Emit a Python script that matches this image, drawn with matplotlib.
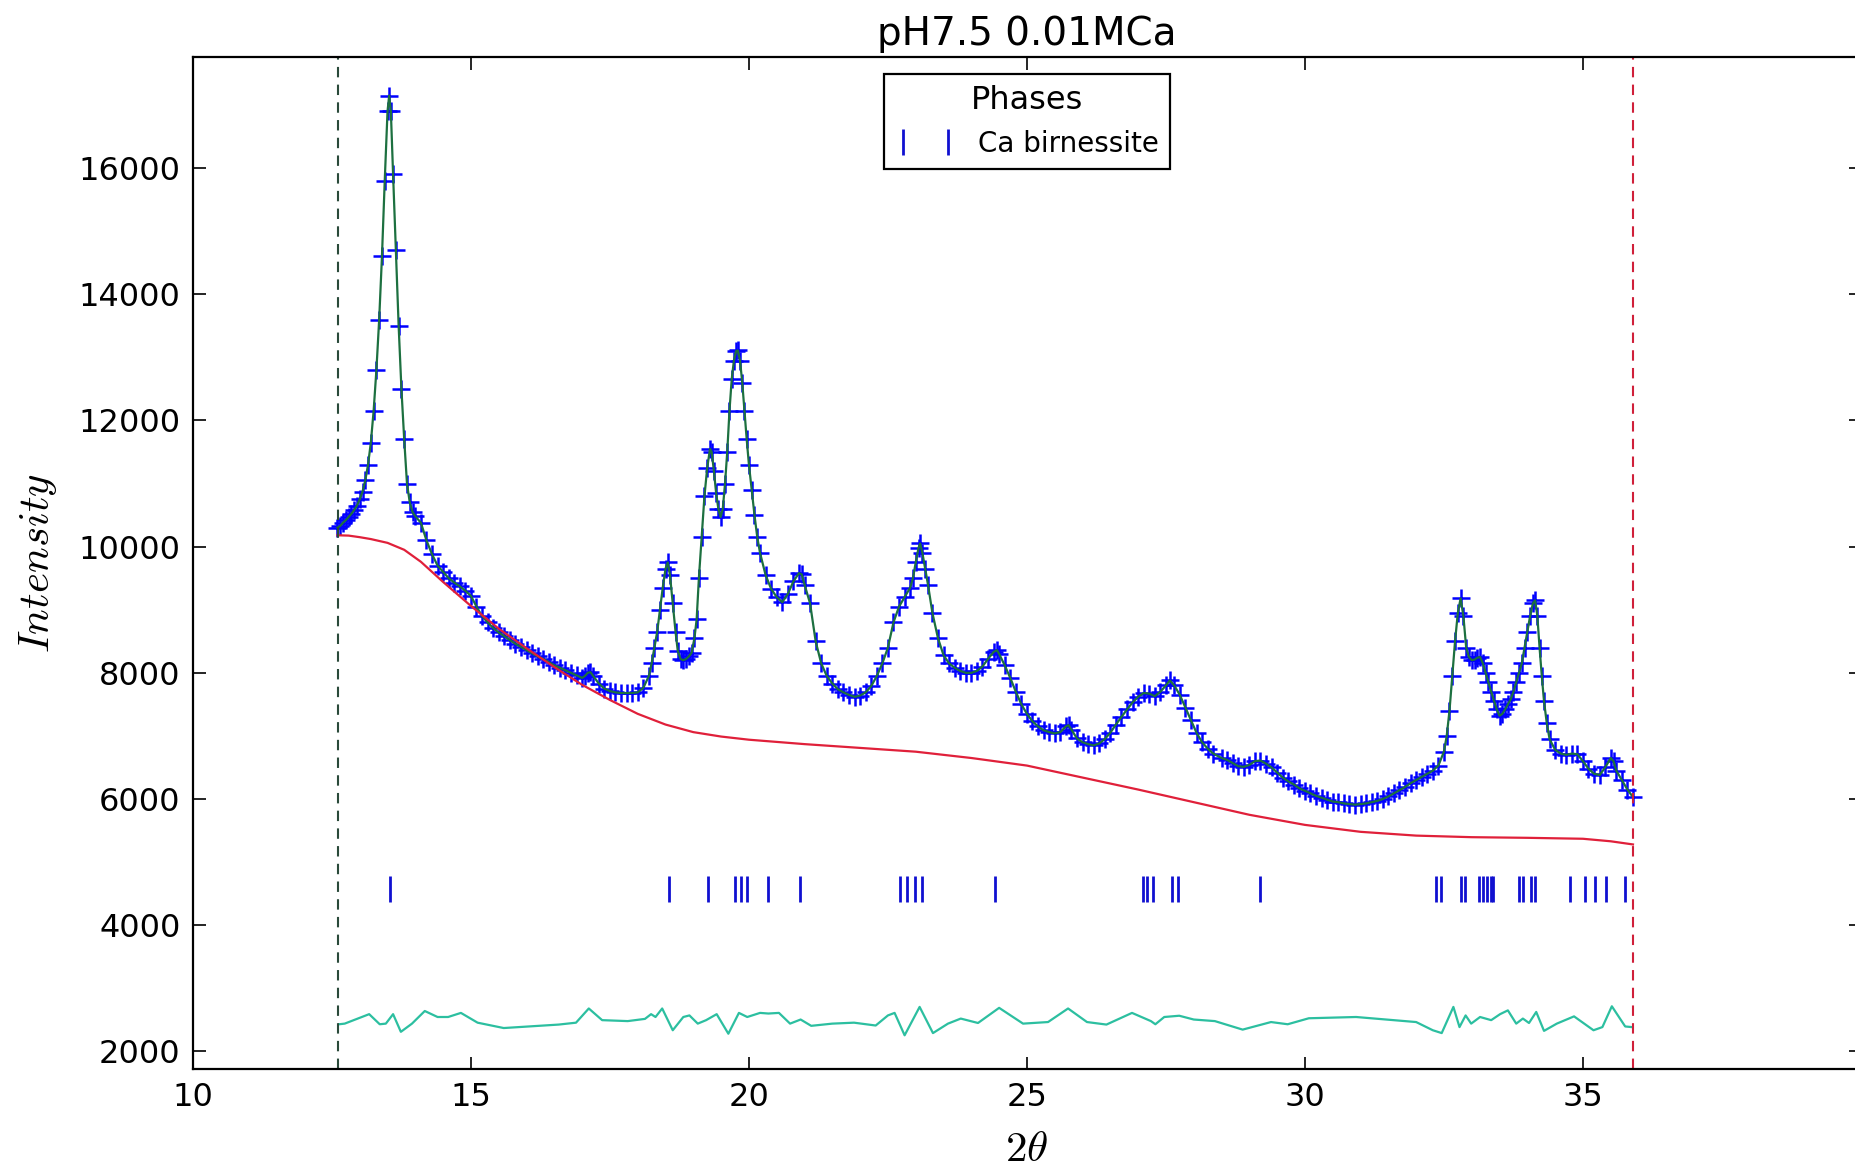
import matplotlib
matplotlib.use('Agg')
import matplotlib.pyplot as plt
from matplotlib.lines import Line2D

tth_obs = [12.60, 12.65, 12.70, 12.75, 12.80, 12.85, 12.90, 12.95, 13.00, 13.05,
           13.10, 13.15, 13.20, 13.25, 13.30, 13.35, 13.40, 13.45, 13.50, 13.53,
           13.56, 13.60, 13.65, 13.70, 13.75, 13.80, 13.85, 13.90, 13.95, 14.00,
           14.10, 14.20, 14.30, 14.40, 14.50, 14.60, 14.70, 14.80, 14.90, 15.00,
           15.10, 15.20, 15.30, 15.40, 15.50, 15.60, 15.70, 15.80, 15.90, 16.00,
           16.10, 16.20, 16.30, 16.40, 16.50, 16.60, 16.70, 16.80, 16.90, 17.00,
           17.05, 17.10, 17.15, 17.20, 17.30, 17.40, 17.50, 17.60, 17.70, 17.80,
           17.90, 18.00, 18.10, 18.20, 18.25, 18.30, 18.35, 18.40, 18.45, 18.50,
           18.54, 18.58, 18.63, 18.68, 18.72, 18.77, 18.82, 18.87, 18.92, 18.97,
           19.02, 19.06, 19.10, 19.15, 19.20, 19.25, 19.30, 19.33, 19.37, 19.41,
           19.45, 19.49, 19.53, 19.57, 19.61, 19.65, 19.69, 19.73, 19.77, 19.80,
           19.84, 19.88, 19.92, 19.96, 20.00, 20.05, 20.10, 20.15, 20.20, 20.30,
           20.40, 20.50, 20.60, 20.70, 20.80, 20.90, 20.95, 21.00, 21.10, 21.20,
           21.30, 21.40, 21.50, 21.60, 21.70, 21.80, 21.90, 22.00, 22.10, 22.20,
           22.30, 22.40, 22.50, 22.60, 22.70, 22.80, 22.90, 22.95, 23.00, 23.05,
           23.08, 23.12, 23.17, 23.22, 23.30, 23.40, 23.50, 23.60, 23.70, 23.80,
           23.90, 24.00, 24.10, 24.20, 24.30, 24.40, 24.46, 24.50, 24.60, 24.70,
           24.80, 24.90, 25.00, 25.10, 25.20, 25.30, 25.40, 25.50, 25.60, 25.70,
           25.75, 25.80, 25.90, 26.00, 26.10, 26.20, 26.30, 26.40, 26.50, 26.60,
           26.70, 26.80, 26.90, 27.00, 27.10, 27.20, 27.30, 27.40, 27.50, 27.57,
           27.65, 27.75, 27.85, 27.95, 28.05, 28.15, 28.25, 28.35, 28.50, 28.60,
           28.70, 28.80, 28.90, 29.00, 29.10, 29.20, 29.30, 29.40, 29.50, 29.60,
           29.70, 29.80, 29.90, 30.00, 30.10, 30.20, 30.30, 30.40, 30.50, 30.60,
           30.70, 30.80, 30.90, 31.00, 31.10, 31.20, 31.30, 31.40, 31.50, 31.60,
           31.70, 31.80, 31.90, 32.00, 32.10, 32.20, 32.30, 32.40, 32.50, 32.55,
           32.60, 32.65, 32.70, 32.75, 32.80, 32.85, 32.90, 32.95, 33.00, 33.05,
           33.10, 33.15, 33.20, 33.25, 33.30, 33.35, 33.40, 33.45, 33.50, 33.55,
           33.60, 33.65, 33.70, 33.75, 33.80, 33.85, 33.90, 33.95, 34.00, 34.05,
           34.10, 34.14, 34.18, 34.22, 34.26, 34.30, 34.35, 34.40, 34.50, 34.60,
           34.70, 34.80, 34.90, 35.00, 35.10, 35.20, 35.30, 35.40, 35.50, 35.55,
           35.60, 35.70, 35.80, 35.90]
i_obs = [10300, 10330, 10380, 10420, 10470, 10520, 10580, 10650, 10750, 10870,
         11050, 11300, 11650, 12150, 12800, 13600, 14600, 15800, 16900, 17150,
         16900, 15900, 14700, 13500, 12500, 11700, 11000, 10700, 10550, 10480,
         10380, 10100, 9880, 9700, 9600, 9500, 9430, 9370, 9300, 9220,
         9050, 8900, 8800, 8710, 8640, 8580, 8520, 8460, 8410, 8360,
         8310, 8260, 8220, 8170, 8120, 8080, 8040, 8000, 7960, 7920,
         7950, 8000, 8010, 7950, 7830, 7750, 7710, 7690, 7680, 7680,
         7680, 7690, 7760, 7950, 8150, 8400, 8650, 9000, 9350, 9650,
         9750, 9550, 9100, 8650, 8350, 8220, 8200, 8220, 8260, 8320,
         8550, 8850, 9500, 10150, 10800, 11250, 11550, 11500, 11200, 10850,
         10600, 10470, 10600, 11000, 11500, 12150, 12650, 12950, 13100, 13110,
         12950, 12600, 12150, 11700, 11300, 10900, 10500, 10150, 9900, 9550,
         9330, 9200, 9120, 9250, 9450, 9580, 9560, 9400, 9100, 8500,
         8150, 7950, 7830, 7740, 7690, 7650, 7620, 7640, 7690, 7790,
         7950, 8150, 8400, 8800, 9050, 9200, 9350, 9500, 9750, 9980,
         10050, 9900, 9650, 9400, 8950, 8550, 8280, 8150, 8080, 8030,
         8000, 8000, 8030, 8100, 8220, 8330, 8360, 8300, 8120, 7920,
         7700, 7500, 7350, 7230, 7150, 7090, 7060, 7040, 7060, 7150,
         7170, 7100, 6960, 6900, 6870, 6850, 6880, 6950, 7050, 7180,
         7300, 7420, 7530, 7620, 7680, 7670, 7630, 7700, 7800, 7880,
         7800, 7650, 7450, 7250, 7050, 6900, 6800, 6720, 6650, 6620,
         6570, 6520, 6510, 6540, 6600, 6610, 6560, 6500, 6420, 6340,
         6280, 6230, 6170, 6130, 6090, 6050, 6020, 5990, 5960, 5950,
         5930, 5920, 5910, 5920, 5930, 5950, 5970, 6000, 6040, 6090,
         6140, 6190, 6250, 6300, 6350, 6400, 6450, 6530, 6750, 7000,
         7400, 7950, 8500, 8950, 9180, 8900, 8400, 8250, 8200, 8210,
         8240, 8250, 8150, 8000, 7850, 7700, 7560, 7420, 7320, 7350,
         7420, 7500, 7580, 7700, 7850, 8000, 8150, 8400, 8650, 8900,
         9100, 9150, 8900, 8400, 7950, 7550, 7200, 6950, 6780, 6720,
         6700, 6720, 6710, 6600, 6480, 6400, 6380, 6500, 6650, 6600,
         6450, 6300, 6150, 6030]
# calculated pattern follows the observed one almost exactly
i_calc = i_obs

# refined background
tth_bg = [12.6, 12.8, 13.0, 13.2, 13.5, 13.8, 14.1, 14.5, 15.0, 15.5, 16.0, 16.5,
          17.0, 17.5, 18.0, 18.5, 19.0, 19.5, 20.0, 21.0, 22.0, 23.0, 24.0, 25.0,
          26.0, 27.0, 28.0, 29.0, 30.0, 31.0, 32.0, 33.0, 34.0, 35.0, 35.5, 35.9]
i_bg = [10180, 10175, 10150, 10120, 10060, 9950, 9760, 9440, 9060, 8700, 8390, 8090,
        7810, 7570, 7350, 7180, 7060, 6990, 6940, 6870, 6810, 6750, 6650, 6530,
        6340, 6150, 5950, 5750, 5590, 5480, 5420, 5395, 5385, 5370, 5330, 5280]

# difference curve (offset)
tth_diff = [12.63, 12.73, 13.17, 13.36, 13.47, 13.60, 13.74, 13.94, 14.17, 14.40,
            14.59, 14.82, 15.12, 15.59, 16.13, 16.58, 16.89, 17.12, 17.36, 17.82,
            18.13, 18.24, 18.32, 18.44, 18.63, 18.82, 18.93, 19.08, 19.23, 19.42,
            19.63, 19.82, 19.97, 20.20, 20.35, 20.54, 20.74, 20.93, 21.12, 21.50,
            21.89, 22.28, 22.50, 22.62, 22.80, 23.07, 23.31, 23.58, 23.81, 24.12,
            24.50, 24.93, 25.38, 25.74, 26.08, 26.43, 26.89, 27.23, 27.31, 27.47,
            27.74, 28.00, 28.38, 28.88, 29.39, 29.69, 30.07, 30.92, 32.00, 32.30,
            32.46, 32.67, 32.78, 32.89, 32.99, 33.15, 33.35, 33.51, 33.65, 33.80,
            33.92, 34.03, 34.16, 34.30, 34.53, 34.84, 35.19, 35.35, 35.52, 35.76,
            35.88]
i_diff = [2430, 2440, 2590, 2430, 2440, 2590, 2310, 2440, 2640, 2545,
          2545, 2610, 2455, 2370, 2400, 2425, 2455, 2680, 2495, 2480,
          2515, 2590, 2545, 2680, 2335, 2545, 2570, 2440, 2495, 2590,
          2280, 2610, 2545, 2610, 2600, 2610, 2440, 2505, 2405, 2440,
          2455, 2410, 2570, 2610, 2255, 2705, 2290, 2440, 2520, 2450,
          2690, 2440, 2465, 2680, 2465, 2425, 2610, 2480, 2430, 2545,
          2565, 2505, 2480, 2345, 2465, 2430, 2525, 2545, 2465, 2335,
          2290, 2705, 2385, 2570, 2440, 2545, 2495, 2590, 2650, 2440,
          2520, 2450, 2625, 2325, 2440, 2555, 2335, 2385, 2715, 2395,
          2385]

# reflection positions of the phase
phase_name = 'Ca birnessite'
phase_ticks = [13.55, 18.56, 19.26, 19.75, 19.85, 19.96, 20.35, 20.91, 22.72, 22.85,
               22.98, 23.11, 24.42, 27.08, 27.16, 27.26, 27.61, 27.71, 29.20, 32.36,
               32.44, 32.80, 32.88, 33.13, 33.21, 33.28, 33.35, 33.39, 33.85, 33.92,
               34.06, 34.13, 34.76, 35.03, 35.22, 35.41, 35.76]
tick_level = 4580

x_min, x_max = 12.61, 35.9
title = 'pH7.5 0.01MCa'

plt.rcParams['mathtext.fontset'] = 'cm'
plt.rcParams['font.family'] = 'DejaVu Sans'

fig = plt.figure(figsize=(18.55, 11.69), dpi=100)
ax = fig.add_axes([0.104, 0.0855, 0.8992, 0.8657])

ax.plot(tth_obs, i_obs, '+', color='#0000ff', ms=13, mew=1.8)
ax.plot(tth_obs, i_calc, '-', color='#1d7040', lw=1.6)
ax.plot(tth_bg, i_bg, '-', color='#e0203a', lw=1.6)
ax.plot(tth_diff, i_diff, '-', color='#2cbfa0', lw=1.6)
ax.plot(phase_ticks, [tick_level] * len(phase_ticks), '|', color='#1010d0',
        ms=19, mew=2, linestyle='none')

ax.axvline(x_min, color='#2a4a3a', ls=(0, (5, 3.5)), lw=1.5)
ax.axvline(x_max, color='#d0203a', ls=(0, (5, 3.5)), lw=1.5)

ax.set_xlim(10, 40)
ax.set_ylim(1720, 17760)
ax.set_xticks([10, 15, 20, 25, 30, 35])
ax.set_yticks([2000, 4000, 6000, 8000, 10000, 12000, 14000, 16000])
ax.tick_params(direction='in', top=True, right=True, length=9, width=1.2,
               labelsize=23, pad=9)
for s in ax.spines.values():
    s.set_linewidth(1.6)

ax.set_title(title, fontsize=28, pad=9)
ax.set_xlabel(r'$2\theta$', fontsize=31, labelpad=11)
ax.set_ylabel(r'$Intensity$', fontsize=31, labelpad=14)

handle = Line2D([], [], marker='|', color='#1010d0', ms=19, mew=2, linestyle='none')
leg = ax.legend([handle], [phase_name], title='Phases', loc='upper center',
                numpoints=2, fontsize=20, title_fontsize=23, fancybox=False,
                framealpha=1, edgecolor='black', borderaxespad=0.6,
                handlelength=2.2, handletextpad=0.8)
leg.get_frame().set_linewidth(1.6)

fig.savefig('out.png', dpi=100, facecolor='white')
